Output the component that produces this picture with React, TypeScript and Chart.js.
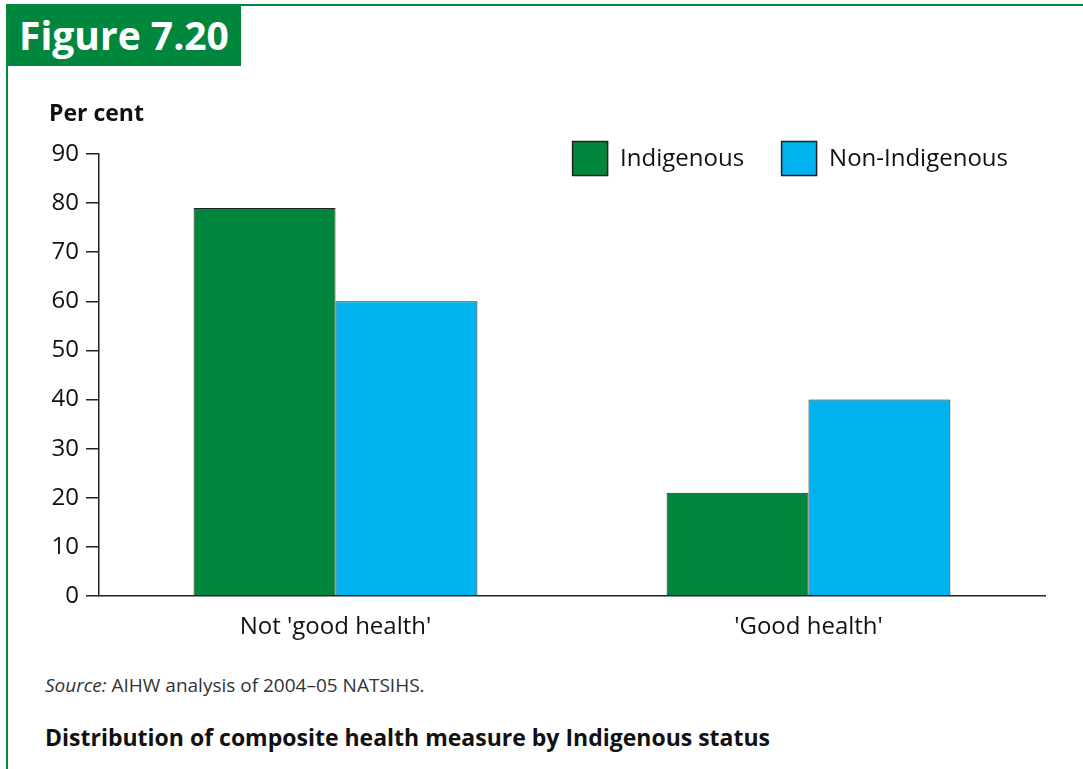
import React, { useEffect, useRef } from "react";
import { Chart, registerables } from "chart.js";

Chart.register(...registerables);

const categories = ["Not 'good health'", "'Good health'"];
const indigenous = [79, 21];
const nonIndigenous = [60, 40];
const yTicks = [0, 10, 20, 30, 40, 50, 60, 70, 80, 90];

const GREEN = "#00873D";
const BLUE = "#00B3EF";
const FONT = "'Open Sans', 'Noto Sans', sans-serif";

const boxLegend = {
  id: "boxLegend",
  afterDraw(chart: any) {
    const { ctx, chartArea } = chart;
    ctx.save();
    ctx.font = `24px ${FONT}`;
    const bw = 36, bh = 35, gap = 12, itemGap = 37;
    const items = chart.data.datasets.map((d: any) => ({
      label: d.label,
      color: d.backgroundColor,
      tw: ctx.measureText(d.label).width,
    }));
    const total = items.reduce((s: number, it: any) => s + bw + gap + it.tw, 0) + itemGap * (items.length - 1);
    let x = chartArea.right - 37 - total;
    const top = chartArea.top - 13;
    items.forEach((it: any) => {
      ctx.fillStyle = it.color;
      ctx.fillRect(x, top, bw, bh);
      ctx.strokeStyle = "#222";
      ctx.lineWidth = 1.5;
      ctx.strokeRect(x + 0.5, top + 0.5, bw - 1, bh - 1);
      ctx.fillStyle = "#111";
      ctx.textBaseline = "middle";
      ctx.textAlign = "left";
      ctx.fillText(it.label, x + bw + gap, top + bh / 2 + 1);
      x += bw + gap + it.tw + itemGap;
    });
    ctx.restore();
  },
};

export default function App() {
  const ref = useRef<HTMLCanvasElement>(null);
  useEffect(() => {
    document.body.style.margin = "0";
    const chart = new Chart(ref.current!, {
      type: "bar",
      data: {
        labels: categories,
        datasets: [
          { label: "Indigenous", data: indigenous, backgroundColor: GREEN, borderColor: "#222", borderWidth: 1 },
          { label: "Non-Indigenous", data: nonIndigenous, backgroundColor: BLUE, borderColor: "#222", borderWidth: 1 },
        ],
      },
      options: {
        responsive: false,
        animation: false,
        layout: { padding: { top: 154, right: 38, left: 0, bottom: 0 } },
        plugins: { legend: { display: false }, tooltip: { enabled: false } },
        datasets: { bar: { categoryPercentage: 0.6, barPercentage: 1.0 } },
        scales: {
          x: {
            grid: { display: false, drawTicks: false },
            border: { color: "#222", width: 1.5 },
            ticks: { color: "#111", font: { family: FONT, size: 24 }, padding: 17 },
            afterFit: (s: any) => { s.height = 64; },
          },
          y: {
            min: 0,
            max: 90,
            afterBuildTicks: (s: any) => { s.ticks = yTicks.map((v) => ({ value: v })); },
            grid: { drawOnChartArea: false, drawTicks: true, tickLength: 13, color: "#222", lineWidth: 1.5 },
            border: { color: "#222", width: 1.5 },
            ticks: { color: "#111", font: { family: FONT, size: 24 }, padding: 7 },
            afterFit: (s: any) => { s.width = 99; },
          },
        },
      },
      plugins: [boxLegend],
    });
    return () => chart.destroy();
  }, []);

  return (
    <div style={{ position: "fixed", left: 0, top: 0, width: 1083, height: 769, background: "#fff", overflow: "hidden", fontFamily: FONT }}>
      <div style={{ position: "absolute", left: 6, top: 4, width: 1077, height: 765, borderTop: `2px solid ${GREEN}`, borderLeft: `2px solid ${GREEN}` }} />
      <canvas ref={ref} width={1083} height={660} style={{ position: "absolute", left: 0, top: 0, width: 1083, height: 660 }} />
      <div style={{ position: "absolute", left: 6, top: 4, width: 235, height: 62, background: GREEN, color: "#fff", fontWeight: 700, fontSize: 39, lineHeight: "62px", paddingLeft: 13, boxSizing: "border-box", whiteSpace: "nowrap" }}>
        Figure 7.20
      </div>
      <div style={{ position: "absolute", left: 49, top: 98, fontWeight: 700, fontSize: 23, lineHeight: "28px", color: "#111" }}>Per cent</div>
      <div style={{ position: "absolute", left: 45, top: 673, fontSize: 19, lineHeight: "24px", color: "#333", whiteSpace: "nowrap" }}>
        <i>Source:</i> AIHW analysis of 2004–05 NATSIHS.
      </div>
      <div style={{ position: "absolute", left: 45, top: 722, fontWeight: 700, fontSize: 23, lineHeight: "30px", color: "#111", whiteSpace: "nowrap" }}>
        Distribution of composite health measure by Indigenous status
      </div>
    </div>
  );
}
